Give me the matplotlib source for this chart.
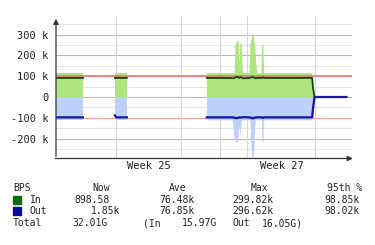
import numpy as np
import matplotlib
matplotlib.use('Agg')
import matplotlib.pyplot as plt
from matplotlib.ticker import FuncFormatter

nan = np.nan

# tiempo en días desde el inicio del gráfico
t = [0.00, 2.84, 2.85, 6.20, 6.21, 6.35, 7.47, 7.48, 15.89, 15.90,
     18.63, 18.75, 18.84, 18.90, 19.00, 19.10, 19.20, 19.25, 19.30, 19.35,
     19.45, 19.60, 19.70, 20.40, 20.50, 20.55, 20.70, 20.80, 20.85, 20.95,
     21.00, 21.05, 21.20, 21.66, 21.72, 21.75, 21.85, 21.95, 27.00, 27.10,
     27.25, 30.60]

# valores en k (bits por segundo / 1000)
in_area = [115, 115, nan, nan, 115, 115, 115, nan, nan, 115,
           115, 115, 115, 240, 260, 275, 265, 260, 200, 170,
           265, 250, 115, 115, 250, 265, 295, 293, 290, 250,
           240, 200, 115, 115, 250, 252, 255, 115, 115, 0,
           0, 0]
out_area = [-112, -112, nan, nan, -112, -112, -112, nan, nan, -112,
            -112, -180, -200, -210, -220, -220, -210, -190, -150, -140,
            -190, -112, -112, -112, -112, -200, -297, -297, -280, -200,
            -150, -112, -112, -112, -112, -210, -220, -112, -112, 0,
            0, 0]
in_line = [92, 92, nan, nan, 92, 92, 92, nan, nan, 92,
           91, 90, 93, 95, 96, 97, 95, 93, 92, 94,
           95, 93, 90, 92, 93, 94, 96, 95, 93, 92,
           91, 90, 92, 92, 93, 94, 94, 92, 92, 40,
           0, 0]
out_line = [-98, -98, nan, nan, -88, -98, -98, nan, nan, -98,
            -98, -99, -100, -101, -102, -101, -100, -99, -98, -98,
            -99, -98, -97, -98, -99, -100, -103, -102, -101, -99,
            -98, -98, -98, -98, -99, -100, -100, -98, -98, -50,
            0, 0]

pct95 = 98.85
y_ticks = [-200, -100, 0, 100, 200, 300]
week_pos = [9.8, 23.8]
week_labels = ['Week 25', 'Week 27']
vgrid = [6.32, 13.16, 17.26, 20.1, 27.26]

legend_head = ['BPS', 'Now', 'Ave', 'Max', '95th %']
legend_names = ['In', 'Out']
legend_vals = [['898.58', '76.48k', '299.82k', '98.85k'],
               ['1.85k', '76.85k', '296.62k', '98.02k']]
total_row = ['Total', '32.01G', '(In', '15.97G', 'Out', '16.05G)']

W, H = 375, 245
fig = plt.figure(figsize=(W / 100, H / 100), dpi=100)
plt.rcParams['font.family'] = 'DejaVu Sans Mono'

# área del gráfico en píxeles
left, right, top, bottom = 56, 352, 16, 158.5
ax = fig.add_axes([left / W, 1 - bottom / H, (right - left) / W, (bottom - top) / H])

ax.set_xlim(0, 31.2)
ax.set_ylim(-296, 390)

# rejilla
for v in np.arange(-250, 400, 50):
    major = v % 100 == 0
    ax.axhline(v, color='#f2a0a0' if major else '#e6e6e6', lw=0.8, zorder=0)
for v in vgrid:
    ax.axvline(v, color='#d6d6d6', lw=0.8, zorder=0)

ax.fill_between(t, 0, in_area, color='#aee47c', lw=0, zorder=1)
ax.fill_between(t, 0, out_area, color='#bcd0fa', lw=0, zorder=1)
ax.axhline(pct95, color='#e07a7a', lw=1.2, zorder=2)
ax.plot(t, in_line, color='#0b4a0b', lw=1.3, zorder=3)
ax.plot(t, out_line, color='#1414a8', lw=1.6, zorder=3)

for s in ['top', 'right', 'left', 'bottom']:
    ax.spines[s].set_visible(False)
ax.annotate('', xy=(0, 1.0), xytext=(0, -0.005), xycoords='axes fraction',
            arrowprops=dict(arrowstyle='-|>,head_length=0.3,head_width=0.15', color='#333333', lw=0.9),
            annotation_clip=False)
ax.annotate('', xy=(1.012, 0), xytext=(-0.012, 0), xycoords='axes fraction',
            arrowprops=dict(arrowstyle='-|>,head_length=0.3,head_width=0.15', color='#333333', lw=0.9),
            annotation_clip=False)

ax.set_yticks(y_ticks)
ax.yaxis.set_major_formatter(FuncFormatter(lambda v, p: '0' if v == 0 else f'{v:g} k'))
ax.set_xticks(week_pos, week_labels)
ax.tick_params(length=0, labelsize=7.5, colors='#222222')
ax.tick_params(axis='y', pad=5.5)
ax.tick_params(axis='x', pad=1.5)

# leyenda
fs = 7
def px(x, y):
    return x / W, 1 - y / H

row_y = [188, 200, 211]
fig.text(*px(13, row_y[0]), legend_head[0], fontsize=fs, va='center', color='#222222')
for x, s in zip([110, 186, 268, 362], legend_head[1:]):
    fig.text(*px(x, row_y[0]), s, fontsize=fs, va='center', ha='right', color='#222222')

sq_colors = ['#106a10', '#0a0a96']
now_right = [110, 120]
for i in range(2):
    y = row_y[i + 1]
    fig.patches.append(plt.Rectangle(px(13, y + 4), 8 / W, 8 / H, transform=fig.transFigure,
                                     color=sq_colors[i]))
    fig.text(*px(30, y), legend_names[i], fontsize=fs, va='center', color='#222222')
    for x, s in zip([now_right[i], 195, 273, 360], legend_vals[i]):
        fig.text(*px(x, y), s, fontsize=fs, va='center', ha='right', color='#222222')

ty = 223
for x, s in zip([13, 72, 143, 182, 233, 262], total_row):
    fig.text(*px(x, ty), s, fontsize=fs, va='center', color='#222222')

fig.savefig('out.png', dpi=100)
